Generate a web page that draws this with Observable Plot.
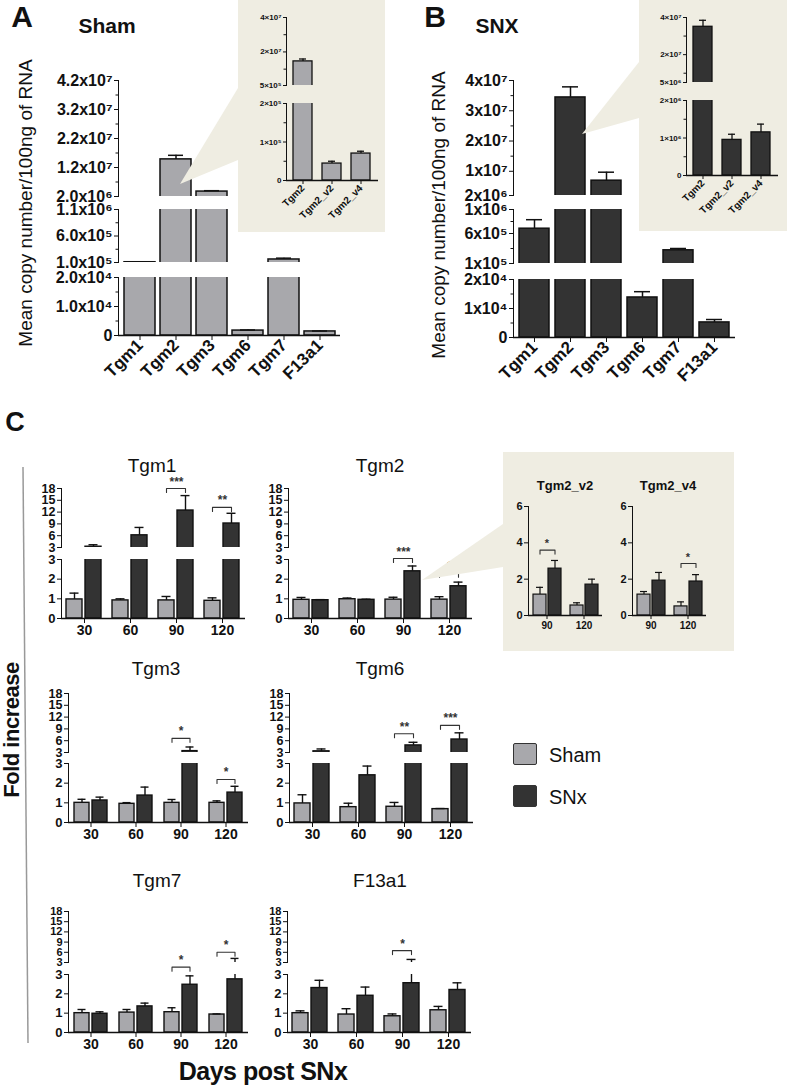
<!DOCTYPE html>
<html><head><meta charset="utf-8">
<script src="https://cdn.jsdelivr.net/npm/d3@7"></script>
<script src="https://cdn.jsdelivr.net/npm/@observablehq/plot@0.6"></script>
<style>
html,body{margin:0;padding:0;background:#fff;}
#root{position:relative;width:787px;height:1087px;overflow:hidden;font-family:"Liberation Sans",Arial,sans-serif;color:#111;}
#root svg{overflow:visible;}
</style></head><body><div id="root"></div>
<script>
// ---------- DATA: panels A/B (mean copy number / 100 ng RNA) ----------
const genes = ["Tgm1","Tgm2","Tgm3","Tgm6","Tgm7","F13a1"];
const shamCopies    = [1.05e5, 1.48e7, 3.7e6, 1.7e3, 1.57e5, 1.4e3];
const shamCopiesErr = [3e3,    1.4e6,  3e5,   2e2,   2.5e4,  1.5e2];
const snxCopies     = [6.8e5,  3.44e7, 6.9e6, 1.38e4, 3.2e5, 5.2e3];
const snxCopiesErr  = [1.5e5,  3.5e6,  2.8e6, 2e3,    3e4,   1e3];
const variants = ["Tgm2","Tgm2_v2","Tgm2_v4"];
const shamVariantCopies = [1.45e7, 4.4e4, 7.0e4];
const shamVariantErr    = [1.4e6,  6e3,   6e3];
const snxVariantCopies  = [3.5e7,  9.5e5, 1.15e6];
const snxVariantErr     = [3.5e6,  1.5e5, 2.2e5];

// ---------- DATA: panel C (fold increase) ----------
const days = [30, 60, 90, 120];
const groups = ["Sham", "SNx"];
const tgm1Sham = [0.97, 0.92, 0.92, 0.90], tgm1ShamErr = [0.32, 0.08, 0.20, 0.15];
const tgm1Snx  = [3.2, 6.1, 12.4, 9.1],    tgm1SnxErr  = [0.5, 2.0, 3.8, 2.6];
const tgm2Sham = [0.95, 0.98, 0.96, 0.96], tgm2ShamErr = [0.12, 0.06, 0.12, 0.15];
const tgm2Snx  = [0.93, 0.95, 2.4, 1.64],  tgm2SnxErr  = [0.03, 0.03, 0.27, 0.21];
const tgm3Sham = [1.0, 0.95, 1.0, 1.0],    tgm3ShamErr = [0.18, 0.06, 0.17, 0.10];
const tgm3Snx  = [1.12, 1.37, 3.35, 1.52], tgm3SnxErr  = [0.17, 0.43, 1.05, 0.32];
const tgm6Sham = [0.97, 0.78, 0.80, 0.68], tgm6ShamErr = [0.44, 0.20, 0.22, 0.03];
const tgm6Snx  = [3.3, 2.4, 4.8, 6.3],     tgm6SnxErr  = [0.6, 0.47, 0.8, 1.7];
const tgm7Sham = [1.0, 1.03, 1.05, 0.93],  tgm7ShamErr = [0.19, 0.16, 0.23, 0.03];
const tgm7Snx  = [0.97, 1.35, 2.47, 2.75], tgm7SnxErr  = [0.10, 0.17, 0.46, 1.45];
const f13a1Sham = [1.0, 0.93, 0.84, 1.15], f13a1ShamErr = [0.12, 0.30, 0.12, 0.20];
const f13a1Snx  = [2.3, 1.9, 2.55, 2.2],   f13a1SnxErr  = [0.40, 0.45, 1.35, 0.37];
const insetDays = [90, 120];
const v2Sham = [1.15, 0.55], v2ShamErr = [0.40, 0.15];
const v2Snx  = [2.58, 1.70], v2SnxErr  = [0.45, 0.30];
const v4Sham = [1.15, 0.50], v4ShamErr = [0.17, 0.25];
const v4Snx  = [1.92, 1.87], v4SnxErr  = [0.45, 0.38];
// significance: [day, bracket level, label, axis part (u = upper, l = lower)]
const tgm1Sig  = [[90, 18, "***", "u"], [120, 13.2, "**", "u"]];
const tgm2Sig  = [[90, 3.05, "***", "l"], [120, 2.3, "*", "l"]];
const tgm3Sig  = [[90, 6.6, "*", "u"], [120, 2.19, "*", "l"]];
const tgm6Sig  = [[90, 7.75, "**", "u"], [120, 9.9, "***", "u"]];
const tgm7Sig  = [[90, 3.38, "*", "l"], [120, 6.0, "*", "u"]];
const f13a1Sig = [[90, 6.5, "*", "u"]];
const v2Sig = [[90, 3.6, "*", "l"]];
const v4Sig = [[120, 2.86, "*", "l"]];
const upperTicks = [3, 6, 9, 12, 15, 18];
const lowerTicks = [0, 1, 2, 3];
const insetTicks = [0, 2, 4, 6];

// ---------- helpers ----------
const FONT = '"Liberation Sans", Arial, Helvetica, sans-serif';
const SHAM_FILL = "#a8a8ac", SNX_FILL = "#333333", INK = "#111111", BEIGE = "#efede2";
const root = document.getElementById("root");
function place(el, x, y){ el.style.position="absolute"; el.style.left=x+"px"; el.style.top=y+"px"; root.appendChild(el); return el; }
function text(t, cx, cy, css, rot){ const d=document.createElement("div"); d.textContent=t;
  d.style.cssText="position:absolute;white-space:nowrap;line-height:1;font-family:"+FONT+";"+css;
  d.style.left=cx+"px"; d.style.top=cy+"px"; d.style.transform="translate(-50%,-50%)"+(rot?" rotate("+rot+"deg)":"");
  root.appendChild(d); return d; }
function sup(n){ return String(n).split("").map(c=>"⁰¹²³⁴⁵⁶⁷⁸⁹"[+c]).join(""); }
function sci(v, dec, x){ if (v===0) return "0"; const e=Math.floor(Math.log10(v)+1e-9); return (v/10**e).toFixed(dec)+x+"10"+sup(e); }
function setFont(svg, sel, size){ svg.querySelectorAll(sel).forEach(t=>{ t.style.fontSize=size+"px"; }); }

function copySeg(o){
  const rows = o.cats.map((c,i)=>({c, v:o.vals[i], e:o.errs[i]}));
  const fw=o.x1-o.x0, fh=o.y1-o.y0, mL=90, mR=10, mT=12, mB=o.showX?60:4, sw=o.sw||1.5;
  const p = Plot.plot({
    width:fw+mL+mR, height:fh+mT+mB, marginLeft:mL, marginRight:mR, marginTop:mT, marginBottom:mB,
    style:{fontFamily:FONT, fontSize:o.fs+"px", fontWeight:"bold", color:INK, background:"transparent", overflow:"visible"},
    x:{domain:o.cats, paddingInner:o.pi, paddingOuter:o.po, axis:o.showX?"bottom":null, tickRotate:-45, tickSize:o.xTick||5, tickPadding:2, label:null},
    y:{domain:o.domain, ticks:o.ticks, tickFormat:o.fmt, tickSize:o.yTick||4, tickPadding:2, line:true, label:null},
    marks:[
      Plot.barY(rows, {x:"c", y:"v", fill:o.fill, stroke:INK, strokeWidth:sw, clip:true}),
      Plot.ruleX(rows, {x:"c", y1:"v", y2:d=>d.v+d.e, stroke:INK, strokeWidth:sw, clip:true}),
      Plot.tickY(rows, {x:"c", y:d=>d.v+d.e, insetLeft:o.cap, insetRight:o.cap, stroke:INK, strokeWidth:sw, clip:true}),
      o.minor ? Plot.ruleY(o.minor, {stroke:INK, strokeWidth:1, dx:-2.5, insetRight:fw-2.5}) : null,
      o.showX ? Plot.ruleY([o.domain[0]], {stroke:INK, strokeWidth:1.6}) : null
    ]
  });
  if (o.xfs) setFont(p, '[aria-label^="x-axis"] text', o.xfs);
  place(p, o.x0-mL, o.y0-mT);
  return p;
}

function foldSeg(o){
  const rows=[];
  o.days.forEach((d,i)=>{ rows.push({day:d, g:"Sham", v:o.sham[i], e:o.shamErr[i]}); rows.push({day:d, g:"SNx", v:o.snx[i], e:o.snxErr[i]}); });
  const fw=o.x1-o.x0, fh=o.y1-o.y0, mL=40, mR=10, mT=30, mB=o.showX?26:2, sw=o.sw||1.4;
  const [lo,hi]=o.domain; const drop=4*(hi-lo)/fh;
  const sig=o.sig||[]; const br=[];
  sig.forEach((s,k)=>{ br.push({k,day:s[0],g:"Sham",y:s[1]-drop},{k,day:s[0],g:"Sham",y:s[1]},{k,day:s[0],g:"SNx",y:s[1]},{k,day:s[0],g:"SNx",y:s[1]-drop}); });
  const p = Plot.plot({
    width:fw+mL+mR, height:fh+mT+mB, marginLeft:mL, marginRight:mR, marginTop:mT, marginBottom:mB,
    style:{fontFamily:FONT, fontSize:o.fs+"px", fontWeight:"bold", color:INK, background:"transparent", overflow:"visible"},
    fx:{domain:o.days, padding:0, axis:o.showX?"bottom":null, tickSize:o.xTick||5, tickPadding:2, label:null},
    x:{domain:groups, paddingInner:0.15, paddingOuter:0.26, axis:null},
    y:{domain:o.domain, ticks:o.ticks, tickFormat:d=>String(d), tickSize:4, tickPadding:2, line:true, label:null},
    color:{domain:groups, range:[SHAM_FILL, SNX_FILL]},
    marks:[
      Plot.barY(rows, {fx:"day", x:"g", y:"v", fill:"g", stroke:INK, strokeWidth:sw, clip:true}),
      Plot.ruleX(rows, {fx:"day", x:"g", y1:"v", y2:d=>d.v+d.e, stroke:INK, strokeWidth:sw, clip:true}),
      Plot.tickY(rows, {fx:"day", x:"g", y:d=>d.v+d.e, insetLeft:o.cap, insetRight:o.cap, stroke:INK, strokeWidth:sw, clip:true}),
      o.showX ? Plot.ruleY([0], {stroke:INK, strokeWidth:1.6}) : null,
      br.length ? Plot.line(br, {fx:"day", x:"g", y:"y", z:"k", stroke:"#333", strokeWidth:1.1}) : null,
      sig.length ? Plot.text(sig, {fx:d=>d[0], y:d=>d[1], text:d=>d[2], dy:-3, lineAnchor:"bottom", fontSize:o.starFs||12, fontWeight:"bold", fill:"#333"}) : null
    ]
  });
  if (o.xfs) setFont(p, '[aria-label^="fx-axis"] text', o.xfs);
  place(p, o.x0-mL, o.y0-mT);
  return p;
}

function genePanel(x0, x1, up, low, sham, shamErr, snx, snxErr, sig, upFs){
  foldSeg({x0, x1, y0:up[0], y1:up[1], domain:[3,18], ticks:upperTicks, days, sham, shamErr, snx, snxErr,
    sig:sig.filter(s=>s[3]==="u"), showX:false, fs:upFs, cap:3.5});
  foldSeg({x0, x1, y0:low[0], y1:low[1], domain:[0,3], ticks:lowerTicks, days, sham, shamErr, snx, snxErr,
    sig:sig.filter(s=>s[3]==="l"), showX:true, fs:13, xfs:14, cap:3.5});
}

// ---------- Panel A ----------
const fmtA = v=>sci(v,1,"x"), fmtB = v=>sci(v,0,"x"), fmtI = v=>sci(v,0,"×");
const aBase = {x0:118, x1:340, cats:genes, vals:shamCopies, errs:shamCopiesErr, fmt:fmtA, fill:SHAM_FILL, pi:0.15, po:0.1, cap:8, fs:16};
copySeg({...aBase, y0:80, y1:196, domain:[2e6,4.2e7], ticks:[2e6,1.2e7,2.2e7,3.2e7,4.2e7], minor:[7e6,1.7e7,2.7e7,3.7e7], showX:false});
copySeg({...aBase, y0:209, y1:262, domain:[1e5,1.1e6], ticks:[1e5,6e5,1.1e6], minor:[3.5e5,8.5e5], showX:false});
copySeg({...aBase, y0:277, y1:335, domain:[0,2e4], ticks:[0,1e4,2e4], minor:[5e3,1.5e4], showX:true, xfs:17});

// ---------- Panel B ----------
const bBase = {x0:513, x1:735, cats:genes, vals:snxCopies, errs:snxCopiesErr, fmt:fmtB, fill:SNX_FILL, pi:0.17, po:0.135, cap:7, fs:16};
copySeg({...bBase, y0:80, y1:195, domain:[2e6,4e7], ticks:[2e6,1e7,2e7,3e7,4e7], minor:[1.5e7,2.5e7,3.5e7], showX:false});
copySeg({...bBase, y0:209, y1:263, domain:[1e5,1e6], ticks:[1e5,6e5,1e6], minor:[3.5e5,8e5], showX:false});
copySeg({...bBase, y0:279, y1:337, domain:[0,2e4], ticks:[0,1e4,2e4], minor:[5e3,1.5e4], showX:true, xfs:17});

// ---------- Panel C ----------
genePanel(60, 245, [488,547], [559,618], tgm1Sham, tgm1ShamErr, tgm1Snx, tgm1SnxErr, tgm1Sig, 12.5);
genePanel(288, 472, [488,547], [559,618], tgm2Sham, tgm2ShamErr, tgm2Snx, tgm2SnxErr, tgm2Sig, 12.5);
genePanel(67, 248, [693,752], [763,822], tgm3Sham, tgm3ShamErr, tgm3Snx, tgm3SnxErr, tgm3Sig, 12.5);
genePanel(289, 473, [693,752], [763,822], tgm6Sham, tgm6ShamErr, tgm6Snx, tgm6SnxErr, tgm6Sig, 12.5);
genePanel(67, 248, [911,962], [974,1032], tgm7Sham, tgm7ShamErr, tgm7Snx, tgm7SnxErr, tgm7Sig, 11);
genePanel(286, 471, [911,962], [974,1032], f13a1Sham, f13a1ShamErr, f13a1Snx, f13a1SnxErr, f13a1Sig, 11);

// ---------- callout boxes, wedges, divider ----------
const ov = d3.create("svg").attr("width",787).attr("height",1087)
  .style("position","absolute").style("left","0px").style("top","0px");
[[238,0,147,232],[639,0,148,231],[503,452,231,199]].forEach(([x,y,w,h])=>
  ov.append("rect").attr("x",x).attr("y",y).attr("width",w).attr("height",h).attr("fill",BEIGE));
[[[180,184],[238,88],[238,160]],[[582,134],[639,62],[639,118]],[[422,580],[503,524],[503,567]]].forEach(pts=>
  ov.append("polygon").attr("points",pts.map(p=>p.join(",")).join(" ")).attr("fill",BEIGE));
ov.append("line").attr("x1",23).attr("y1",467).attr("x2",28).attr("y2",1043).attr("stroke","#999").attr("stroke-width",1.5);
root.appendChild(ov.node());

// ---------- insets A / B ----------
const iaBase = {x0:286, x1:378, cats:variants, vals:shamVariantCopies, errs:shamVariantErr, fmt:fmtI, fill:SHAM_FILL, pi:0.33, po:0.2, cap:6, fs:8, sw:1.3, yTick:3};
copySeg({...iaBase, y0:17, y1:85, domain:[5e5,4e7], ticks:[5e5,2e7,4e7], minor:[1e7,3e7], showX:false});
copySeg({...iaBase, y0:103, y1:180, domain:[0,2e5], ticks:[0,1e5,2e5], minor:[5e4,1.5e5], showX:true, xfs:10, xTick:4});
const ibBase = {x0:686, x1:778, cats:variants, vals:snxVariantCopies, errs:snxVariantErr, fmt:fmtI, fill:SNX_FILL, pi:0.33, po:0.2, cap:6, fs:8, sw:1.3, yTick:3};
copySeg({...ibBase, y0:17, y1:82, domain:[5e6,4e7], ticks:[5e6,2e7,4e7], minor:[1e7,3e7], showX:false});
copySeg({...ibBase, y0:100, y1:175, domain:[0,2e6], ticks:[0,1e6,2e6], minor:[5e5,1.5e6], showX:true, xfs:10, xTick:4});

// ---------- inset C ----------
foldSeg({x0:528, x1:602, y0:506, y1:615, domain:[0,6], ticks:insetTicks, days:insetDays, sham:v2Sham, shamErr:v2ShamErr, snx:v2Snx, snxErr:v2SnxErr, sig:v2Sig, showX:true, fs:11, xfs:10, cap:3, xTick:4, sw:1.2, starFs:11});
foldSeg({x0:632, x1:706, y0:506, y1:615, domain:[0,6], ticks:insetTicks, days:insetDays, sham:v4Sham, shamErr:v4ShamErr, snx:v4Snx, snxErr:v4SnxErr, sig:v4Sig, showX:true, fs:11, xfs:10, cap:3, xTick:4, sw:1.2, starFs:11});

// ---------- texts ----------
text("A", 22, 17, "font-size:30px;font-weight:bold;");
text("Sham", 107, 25, "font-size:21px;font-weight:bold;");
text("B", 435, 17, "font-size:30px;font-weight:bold;");
text("SNX", 497, 25, "font-size:21px;font-weight:bold;");
text("Mean copy number/100ng of RNA", 25, 203, "font-size:19px;", -90);
text("Mean copy number/100ng of RNA", 438, 215, "font-size:19px;", -90);
text("C", 15, 422, "font-size:27px;font-weight:bold;");
text("Tgm1", 152, 465, "font-size:19px;");
text("Tgm2", 380, 465, "font-size:19px;");
text("Tgm3", 156, 668, "font-size:19px;");
text("Tgm6", 380, 668, "font-size:19px;");
text("Tgm7", 157, 880, "font-size:19px;");
text("F13a1", 380, 880, "font-size:19px;");
text("Tgm2_v2", 565, 485, "font-size:13px;font-weight:bold;");
text("Tgm2_v4", 668, 485, "font-size:13px;font-weight:bold;");
text("Fold increase", 12, 730, "font-size:22px;font-weight:bold;letter-spacing:-0.5px;", -90);
text("Days post SNx", 263, 1071, "font-size:25px;font-weight:bold;letter-spacing:-0.5px;");

// ---------- legend ----------
[["Sham", SHAM_FILL, 755], ["SNx", SNX_FILL, 797]].forEach(([name, fill, cy])=>{
  const s=document.createElement("div");
  s.style.cssText="position:absolute;width:22px;height:20px;border:1.8px solid #333;border-radius:2px;background:"+fill+";";
  place(s, 513, cy-12);
  const t=document.createElement("div"); t.textContent=name;
  t.style.cssText="position:absolute;font-size:20px;line-height:1;font-family:"+FONT+";transform:translateY(-50%);";
  place(t, 549, cy);
});
</script></body></html>
